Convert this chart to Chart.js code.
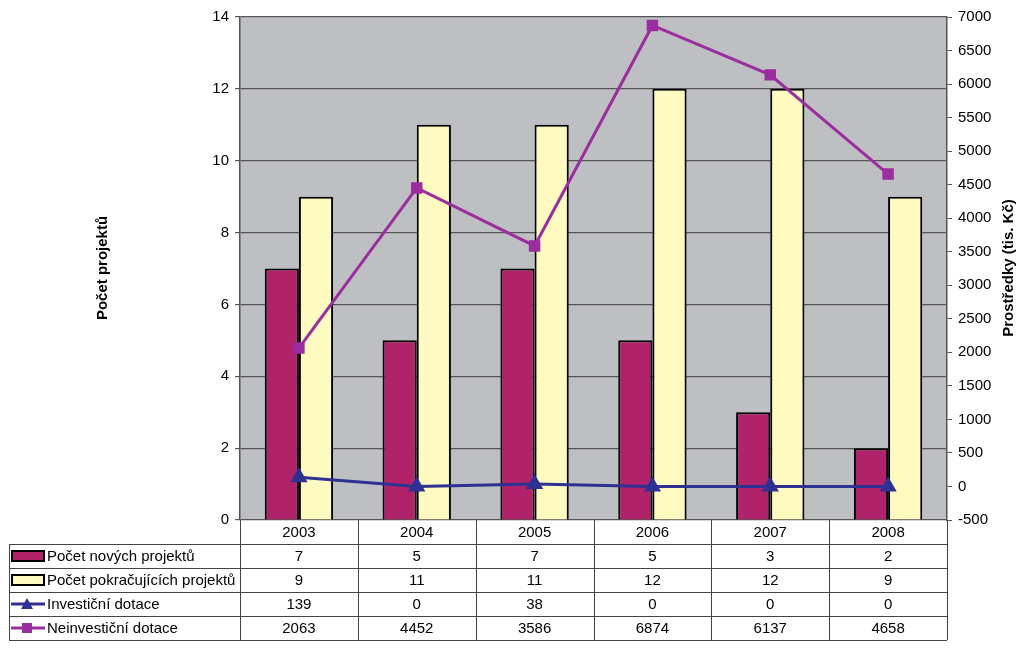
<!DOCTYPE html>
<html>
<head>
<meta charset="utf-8">
<script src="https://cdn.jsdelivr.net/npm/chart.js@4.4.0/dist/chart.umd.min.js"></script>
<style>
  html, body { margin: 0; padding: 0; background: #fff; }
  #wrap { width: 1024px; height: 650px; }
</style>
</head>
<body>
<div id="wrap"><canvas id="chart" width="1024" height="650"></canvas></div>
<script>
const years = ["2003", "2004", "2005", "2006", "2007", "2008"];
const newProjects = [7, 5, 7, 5, 3, 2];
const runningProjects = [9, 11, 11, 12, 12, 9];
const investGrants = [139, 0, 38, 0, 0, 0];
const nonInvestGrants = [2063, 4452, 3586, 6874, 6137, 4658];

const FONT = "'Liberation Sans', Arial, sans-serif";

const dataTable = {
    id: "dataTable",
    afterDraw(chart) {
        const c = chart.ctx;
        const xs = chart.scales.x;
        const area = chart.chartArea;
        const n = years.length;
        const colW = (area.right - area.left) / n;
        const rowH = 24;
        const top = area.bottom;
        const tableLeft = 9;
        c.save();
        c.strokeStyle = "#444";
        c.lineWidth = 1;
        c.beginPath();
        c.moveTo(area.left + 0.5, top); c.lineTo(area.left + 0.5, top + rowH * 5);
        c.moveTo(tableLeft + 0.5, top + rowH); c.lineTo(tableLeft + 0.5, top + rowH * 5);
        for (let r = 1; r <= 5; r++) {
            const y = Math.round(top + rowH * r) + 0.5;
            c.moveTo(tableLeft, y); c.lineTo(area.right, y);
        }
        for (let i = 1; i <= n; i++) {
            const x = Math.round(area.left + colW * i) + 0.5;
            c.moveTo(x, top); c.lineTo(x, top + rowH * 5);
        }
        c.stroke();

        c.font = "15px " + FONT;
        c.fillStyle = "#000";
        c.textBaseline = "middle";
        c.textAlign = "center";
        const rows = [newProjects, runningProjects, investGrants, nonInvestGrants];
        years.forEach((yr, i) => {
            const cx = xs.getPixelForValue(i);
            c.fillText(yr, cx, top + rowH / 2 + 1);
            rows.forEach((vals, r) => {
                c.fillText(String(vals[i]), cx, top + rowH * (r + 1) + rowH / 2 + 1);
            });
        });

        // legend keys
        c.textAlign = "left";
        chart.data.datasets.forEach((ds, r) => {
            const cy = top + rowH * (r + 1) + rowH / 2;
            if (ds.type === "bar") {
                c.fillStyle = ds.backgroundColor;
                c.fillRect(12, cy - 5, 32, 10);
                c.strokeStyle = "#000";
                c.lineWidth = 2;
                c.strokeRect(12, cy - 5, 32, 10);
            } else {
                c.strokeStyle = ds.borderColor;
                c.lineWidth = 3;
                c.beginPath(); c.moveTo(11, cy); c.lineTo(45, cy); c.stroke();
                c.fillStyle = ds.borderColor;
                if (ds.pointStyle === "triangle") {
                    c.beginPath();
                    c.moveTo(27, cy - 6); c.lineTo(33, cy + 5); c.lineTo(21, cy + 5);
                    c.closePath(); c.fill();
                } else {
                    c.fillRect(22, cy - 5, 10, 10);
                }
            }
            c.fillStyle = "#000";
            c.fillText(ds.label, 47, cy + 1);
        });

        // axis titles
        c.font = "bold 15px " + FONT;
        c.textAlign = "center";
        c.save();
        c.translate(103, 268);
        c.rotate(-Math.PI / 2);
        c.fillText("Počet projektů", 0, 0);
        c.restore();
        c.save();
        c.translate(1009, 268);
        c.rotate(-Math.PI / 2);
        c.fillText("Prostředky (tis. Kč)", 0, 0);
        c.restore();
        c.restore();
    }
};

const plotBg = {
    id: "plotBg",
    beforeDraw(chart) {
        const a = chart.chartArea;
        chart.ctx.save();
        chart.ctx.fillStyle = "#BDBFC2";
        chart.ctx.fillRect(a.left, a.top, a.right - a.left, a.bottom - a.top);
        chart.ctx.restore();
    }
};

new Chart(document.getElementById("chart").getContext("2d"), {
    data: {
        labels: years,
        datasets: [
            {
                type: "bar",
                label: "Počet nových projektů",
                data: newProjects,
                backgroundColor: "#B0226A",
                borderColor: "#000",
                borderWidth: 2,
                yAxisID: "y",
                categoryPercentage: 0.58,
                barPercentage: 1.0,
                order: 2
            },
            {
                type: "bar",
                label: "Počet pokračujících projektů",
                data: runningProjects,
                backgroundColor: "#FFFAC0",
                borderColor: "#000",
                borderWidth: 2,
                yAxisID: "y",
                categoryPercentage: 0.58,
                barPercentage: 1.0,
                order: 2
            },
            {
                type: "line",
                label: "Investiční dotace",
                data: investGrants,
                borderColor: "#2E3192",
                backgroundColor: "#2E3192",
                borderWidth: 3,
                pointStyle: "triangle",
                pointRadius: 7,
                yAxisID: "y1",
                tension: 0,
                order: 1
            },
            {
                type: "line",
                label: "Neinvestiční dotace",
                data: nonInvestGrants,
                borderColor: "#9B2E9E",
                backgroundColor: "#9B2E9E",
                borderWidth: 3,
                pointStyle: "rect",
                pointRadius: 6,
                yAxisID: "y1",
                tension: 0,
                order: 0
            }
        ]
    },
    options: {
        responsive: false,
        animation: false,
        layout: { padding: { top: 17, bottom: 130, left: 0, right: 0 } },
        plugins: { legend: { display: false }, tooltip: { enabled: false } },
        scales: {
            x: {
                display: false,
                offset: true
            },
            y: {
                position: "left",
                min: 0,
                max: 14,
                ticks: { stepSize: 2, color: "#000", padding: 6, font: { size: 15, family: FONT } },
                grid: { color: "#555", lineWidth: 1.2, tickLength: 5 },
                border: { color: "#555", width: 1.5 },
                afterFit(s) { s.width = 240; }
            },
            y1: {
                position: "right",
                min: -500,
                max: 7000,
                ticks: {
                    stepSize: 500, color: "#000", padding: 6,
                    font: { size: 15, family: FONT },
                    callback: (v) => String(v)
                },
                grid: { drawOnChartArea: false, color: "#555", tickLength: 5 },
                border: { color: "#555", width: 1.5 },
                afterFit(s) { s.width = 77; }
            }
        }
    },
    plugins: [plotBg, dataTable]
});
</script>
</body>
</html>
